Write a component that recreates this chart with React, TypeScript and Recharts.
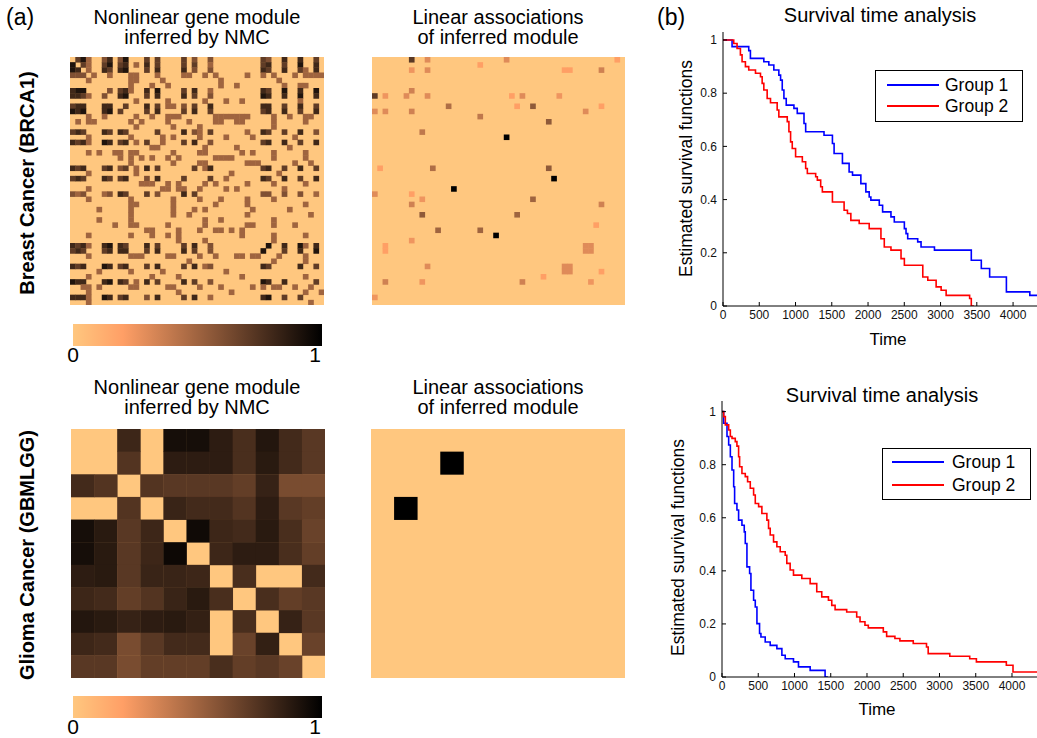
import React from 'react';
import { BarChart, Bar, Line, LineChart, Scatter, ScatterChart, XAxis, YAxis } from 'recharts';

const FONT = '"Liberation Sans", Arial, sans-serif';
const BG = '#ffc77f';

// Breast cancer nonlinear module, 48 x 48 ('.' = 0, digit = tenths)
const brcaNonlinear: string[] = [
  '.795..68.69...7.7....7.6..6.........76..8..8..7.',
  '9.75..79.78.5.8.7....7.7..5.........78..7..9..8.',
  '98.5..87.89...7.8....8.6..6.........87..8..75.8.',
  '666.5..5...55...5....55..5.5.....5..5.5...5.5555',
  '...5.......55....5..........5..........5........',
  '...........5...5..5.........5..5........5..55...',
  '899....6.785..8.9....7.8..5.........87..9..8..9.',
  '8875..6..89...7.8....8.7..6.........98..8..9..8.',
  '............5.....5......5...5..5..........5....',
  '788...88..7...8.7.55.6.7..8.........88..7..8..7.',
  '989...89.7....7.8....7.8..7.........78..8..7..8.',
  '...5..5.....5..5..555......5555555....5..5..55..',
  '.5.55......5.5....5...5....55..55.....5.....5...',
  '............5......5....5.............5.........',
  '787...87.87.....7....8.65.7......5..87..7..8..6.',
  '...5.......5.....5.5....5....5....5.......5.....',
  '8785..98.78.5.7..5...7.8..6.........78..8..7..8.',
  '...............55........5.....5.........5......',
  '...5.5..55.55......5....55......5.5...5.....5...',
  '.........5.5.5.5..5.5......5555.......5.....5...',
  '...........5.......5....55.......555......5..5..',
  '878...78.67.5.8.7......7.58.........78..7..8..7.',
  '...5........5.................5........5........',
  '787...87.78...6.8....7....7..5......87..8..7..8.',
  '.............555..5.5....5.5.....5....5.....5...',
  '...5.............55.55..5....5.5........5.......',
  '656...56.87...7.6....8.7............66..6..6..5.',
  '...5.......5.......5....5...5....5....5.........',
  '...........55......5.......5.....5..........5...',
  '.....5.....5.......5...5.5........5......5......',
  '...........5.......5..5..........5...........5..',
  '.....5.....5.............5..5.........5.........',
  '........5..55.....5......5.......55...5...5.....',
  '..............55....5...5..55.5.5...............',
  '...5.......5...5..5.5...........5.....5.....5...',
  '....................5....5............5.........',
  '8785..89.87...8.7....7.8..6..........9..8..95.8.',
  '787...78.88...7.8....8.7..6.........9...7..8..9.',
  '...5.......555....55....5..5...55.55...5....5...',
  '......................5...............5.....5...',
  '878...98.78...7.8....7.8.56.........87.....8..7.',
  '.....5.....5.....5...........5..................',
  '...5...........5....5...........5...........5...',
  '988...89.87.5.8.7....8.7..6.........98..8.....7.',
  '..55.5.....55.....55....5...5.....5.5.55..5..5..',
  '...5................5.........5.............5..5',
  '8885..98.78...6.8....7.8..5.........89..7..7....',
  '...5.........................................5..',
];

// Breast cancer linear associations: [row, col, value]
const brcaLinear: [number, number, number][] = [
  [0, 7, 0.72], [0, 10, 0.3], [0, 25, 0.3], [0, 46, 0.2], [1, 20, 0.2],
  [2, 7, 0.25], [2, 10, 0.3], [2, 36, 0.2], [2, 37, 0.2], [2, 43, 0.35],
  [6, 7, 0.35], [7, 0, 0.7], [7, 2, 0.25], [7, 6, 0.3], [7, 10, 0.3],
  [7, 26, 0.2], [7, 28, 0.3], [7, 35, 0.25], [9, 14, 0.45], [9, 27, 0.2],
  [9, 30, 0.55], [9, 43, 0.2], [10, 0, 0.3], [10, 2, 0.3], [10, 7, 0.35],
  [10, 40, 0.3], [11, 20, 0.4], [12, 33, 0.55], [14, 9, 0.4], [15, 25, 1],
  [21, 1, 0.2], [21, 11, 0.45], [21, 33, 0.55], [23, 34, 1], [25, 15, 1],
  [26, 0, 0.3], [26, 7, 0.2], [27, 9, 0.25], [27, 30, 0.5], [28, 7, 0.35],
  [28, 43, 0.35], [30, 9, 0.55], [30, 27, 0.5], [32, 42, 0.2], [33, 12, 0.5],
  [33, 20, 0.5], [34, 23, 1], [35, 7, 0.25], [36, 2, 0.2], [37, 2, 0.2],
  [36, 40, 0.3], [36, 41, 0.3], [37, 40, 0.3], [37, 41, 0.3], [40, 10, 0.3],
  [40, 36, 0.3], [40, 37, 0.3], [41, 36, 0.3], [41, 37, 0.3], [41, 43, 0.2],
  [42, 32, 0.2], [43, 2, 0.35], [43, 9, 0.25], [43, 28, 0.35], [43, 41, 0.25],
  [46, 0, 0.25],
];

// Glioma nonlinear module, 11 x 11
const gliomaNonlinear: number[][] = [
  [0, 0, 0.81, 0, 0.93, 0.93, 0.86, 0.77, 0.89, 0.79, 0.72],
  [0, 0, 0.74, 0, 0.86, 0.86, 0.86, 0.77, 0.87, 0.79, 0.72],
  [0.79, 0.74, 0, 0.74, 0.72, 0.72, 0.72, 0.69, 0.83, 0.62, 0.62],
  [0, 0, 0.74, 0, 0.82, 0.79, 0.79, 0.74, 0.86, 0.72, 0.69],
  [0.93, 0.87, 0.72, 0.81, 0, 0.95, 0.81, 0.79, 0.87, 0.77, 0.67],
  [0.93, 0.87, 0.72, 0.81, 0.96, 0, 0.81, 0.86, 0.86, 0.77, 0.69],
  [0.86, 0.87, 0.72, 0.82, 0.82, 0.81, 0, 0.77, 0, 0, 0.79],
  [0.81, 0.79, 0.69, 0.74, 0.82, 0.87, 0.77, 0, 0.77, 0.69, 0.72],
  [0.89, 0.87, 0.83, 0.86, 0.87, 0.84, 0, 0.77, 0, 0.83, 0.72],
  [0.81, 0.79, 0.62, 0.72, 0.79, 0.79, 0, 0.67, 0.84, 0, 0.67],
  [0.72, 0.72, 0.62, 0.69, 0.69, 0.69, 0.77, 0.69, 0.72, 0.67, 0],
];

const gliomaLinear: [number, number, number][] = [
  [1, 3, 1], [3, 1, 1],
];

// Kaplan-Meier curves: [time, survival]
const brcaGroup1: [number, number][] = [
  [0, 1], [125, 0.975], [355, 0.96], [378, 0.931], [563, 0.918], [632, 0.906],
  [701, 0.887], [770, 0.868], [794, 0.849], [817, 0.812], [840, 0.78], [872, 0.755],
  [978, 0.743], [1024, 0.724], [1117, 0.686], [1140, 0.655], [1393, 0.642],
  [1509, 0.611], [1532, 0.573], [1647, 0.536], [1739, 0.504], [1786, 0.492],
  [1901, 0.46], [1970, 0.429], [2016, 0.41], [2039, 0.398], [2155, 0.379],
  [2201, 0.354], [2316, 0.335], [2362, 0.316], [2501, 0.291], [2524, 0.272],
  [2547, 0.253], [2685, 0.241], [2731, 0.222], [2916, 0.21], [3424, 0.172],
  [3562, 0.141], [3677, 0.109], [3908, 0.053], [4231, 0.04], [4330, 0.04],
];

const brcaGroup2: [number, number][] = [
  [0, 1], [148, 0.987], [194, 0.968], [240, 0.944], [263, 0.918], [309, 0.9],
  [355, 0.887], [448, 0.875], [517, 0.862], [540, 0.837], [563, 0.812], [609, 0.78],
  [655, 0.764], [747, 0.737], [770, 0.711], [886, 0.693], [909, 0.655], [932, 0.617],
  [955, 0.592], [1001, 0.561], [1094, 0.542], [1140, 0.517], [1163, 0.498],
  [1278, 0.486], [1301, 0.473], [1347, 0.448], [1370, 0.429], [1509, 0.391],
  [1670, 0.36], [1716, 0.348], [1763, 0.322], [1878, 0.31], [2016, 0.291],
  [2178, 0.253], [2224, 0.222], [2316, 0.21], [2455, 0.178], [2501, 0.153],
  [2755, 0.109], [2824, 0.097], [2939, 0.072], [3008, 0.059], [3077, 0.04],
  [3401, 0.028], [3424, 0], [3460, 0],
];

const gliomaGroup1: [number, number][] = [
  [0, 1], [23, 0.956], [69, 0.906], [92, 0.874], [115, 0.83], [138, 0.78],
  [161, 0.717], [174, 0.654], [206, 0.629], [229, 0.591], [275, 0.572], [307, 0.547],
  [321, 0.503], [344, 0.415], [381, 0.39], [399, 0.327], [436, 0.289], [459, 0.264],
  [482, 0.201], [518, 0.164], [537, 0.151], [596, 0.132], [665, 0.119], [757, 0.107],
  [826, 0.082], [872, 0.069], [986, 0.057], [1055, 0.038], [1216, 0.025],
  [1422, 0], [1460, 0],
];

const gliomaGroup2: [number, number][] = [
  [0, 1], [23, 0.981], [46, 0.95], [92, 0.931], [115, 0.906], [138, 0.899],
  [183, 0.887], [206, 0.87], [229, 0.83], [243, 0.792], [275, 0.767], [321, 0.755],
  [353, 0.736], [390, 0.711], [436, 0.686], [459, 0.654], [505, 0.642], [550, 0.616],
  [619, 0.591], [642, 0.56], [665, 0.535], [711, 0.509], [757, 0.491], [803, 0.472],
  [872, 0.459], [894, 0.428], [940, 0.403], [986, 0.384], [1101, 0.371],
  [1216, 0.352], [1307, 0.321], [1376, 0.302], [1468, 0.289], [1514, 0.27],
  [1560, 0.254], [1720, 0.245], [1858, 0.226], [1904, 0.208], [1972, 0.195],
  [2018, 0.185], [2225, 0.17], [2271, 0.153], [2385, 0.145], [2454, 0.136],
  [2638, 0.126], [2821, 0.113], [2844, 0.088], [3142, 0.078], [3417, 0.069],
  [3509, 0.057], [3922, 0.044], [4014, 0.019], [4345, 0.019],
];

const timeTicks = [0, 500, 1000, 1500, 2000, 2500, 3000, 3500, 4000];
const survTicks = [0, 0.2, 0.4, 0.6, 0.8, 1];
const colorbarTicks = [0, 1];

// flipped MATLAB copper map
function copper(v: number) {
  const x = 1 - v;
  const r = Math.min(1, 1.25 * x);
  return `rgb(${Math.round(r * 255)},${Math.round(0.7812 * x * 255)},${Math.round(0.4975 * x * 255)})`;
}

type CellRow = { x: number; y: number; v: number };

function fromStrings(rows: string[]): CellRow[] {
  const out: CellRow[] = [];
  rows.forEach((row, r) => {
    for (let c = 0; c < Math.min(row.length, rows.length); c++) {
      const ch = row[c];
      if (ch !== '.') out.push({ x: c + 0.5, y: r + 0.5, v: Number(ch) / 10 });
    }
  });
  return out;
}

function fromMatrix(m: number[][]): CellRow[] {
  const out: CellRow[] = [];
  m.forEach((row, r) => row.forEach((v, c) => { if (v > 0) out.push({ x: c + 0.5, y: r + 0.5, v }); }));
  return out;
}

function fromList(list: [number, number, number][]): CellRow[] {
  return list.map(([r, c, v]) => ({ x: c + 0.5, y: r + 0.5, v }));
}

function Heatmap({ cells, n, left, top, width, height }: { cells: CellRow[]; n: number; left: number; top: number; width: number; height: number }) {
  const cw = width / n;
  const ch = height / n;
  const shape = (p: any) => (
    <rect x={p.cx - cw / 2} y={p.cy - ch / 2} width={cw + 0.4} height={ch + 0.4} fill={copper(p.payload.v)} />
  );
  return (
    <div style={{ position: 'absolute', left, top, width, height, background: BG }}>
      <ScatterChart width={width} height={height} margin={{ top: 0, right: 0, bottom: 0, left: 0 }}>
        <XAxis type="number" dataKey="x" domain={[0, n]} hide height={0} />
        <YAxis type="number" dataKey="y" domain={[0, n]} reversed hide width={0} />
        <Scatter data={cells} shape={shape} isAnimationActive={false} />
      </ScatterChart>
    </div>
  );
}

function ColorBar({ id, left, top }: { id: string; left: number; top: number }) {
  return (
    <div style={{ position: 'absolute', left: left - 10, top }}>
      <BarChart width={269} height={50} layout="vertical" data={[{ name: 'c', v: 1.028 }]}
        margin={{ top: 0, right: 10, bottom: 0, left: 10 }} barCategoryGap={0}>
        <defs>
          <linearGradient id={id} x1="0" y1="0" x2="1" y2="0">
            <stop offset="0" stopColor="#ffc77f" />
            <stop offset="0.2" stopColor="#ff9f66" />
            <stop offset="1" stopColor="#000000" />
          </linearGradient>
        </defs>
        <XAxis type="number" domain={[0, 1.028]} ticks={colorbarTicks} height={28}
          axisLine={false} tickLine={false} tickSize={0} tickMargin={1}
          tick={{ fontSize: 21, fill: '#000', fontFamily: FONT }} />
        <YAxis type="category" dataKey="name" hide width={0} />
        <Bar dataKey="v" fill={`url(#${id})`} isAnimationActive={false} />
      </BarChart>
    </div>
  );
}

const toPts = (a: [number, number][]) => a.map(([t, s]) => ({ t, s }));
const fmtSurv = (v: number) => (v === 0 ? '0' : v === 1 ? '1' : v.toFixed(1));

function Survival({ left, top, marginTop, yWidth, xHeight, xMax, yMax, g1, g2 }: {
  left: number; top: number; marginTop: number; yWidth: number; xHeight: number;
  xMax: number; yMax: number; g1: [number, number][]; g2: [number, number][];
}) {
  const tick = { fontSize: 12, fill: '#111', fontFamily: FONT };
  return (
    <div style={{ position: 'absolute', left, top }}>
      <LineChart width={1037 - left} height={330} margin={{ top: marginTop, right: 0, bottom: 0, left: 0 }}>
        <XAxis type="number" dataKey="t" domain={[0, xMax]} ticks={timeTicks} interval={0}
          allowDataOverflow height={xHeight} tickSize={-4} tickMargin={8} tick={tick}
          axisLine={{ stroke: '#000' }} tickLine={{ stroke: '#000' }} />
        <YAxis type="number" domain={[0, yMax]} ticks={survTicks} interval={0} width={yWidth}
          allowDataOverflow tickSize={-4} tickMargin={10} tick={tick} tickFormatter={fmtSurv}
          axisLine={{ stroke: '#000' }} tickLine={{ stroke: '#000' }} />
        <Line data={toPts(g1)} dataKey="s" type="stepAfter" stroke="#0000ff" strokeWidth={1.6}
          dot={false} isAnimationActive={false} />
        <Line data={toPts(g2)} dataKey="s" type="stepAfter" stroke="#ff0000" strokeWidth={1.6}
          dot={false} isAnimationActive={false} />
      </LineChart>
    </div>
  );
}

function LegendBox({ left, top, width, lineX, textX, y1, y2 }: { left: number; top: number; width: number; lineX: number; textX: number; y1: number; y2: number }) {
  const entry = (label: string, color: string, y: number) => (
    <>
      <div style={{ position: 'absolute', left: lineX, top: y - 1, width: 52, borderTop: `2px solid ${color}` }} />
      <div style={{ position: 'absolute', left: textX, top: y - 11, lineHeight: '22px', fontSize: 17.5 }}>{label}</div>
    </>
  );
  return (
    <div style={{ position: 'absolute', left, top, width, height: 52, border: '1.5px solid #000', boxSizing: 'border-box', background: '#fff' }}>
      {entry('Group 1', '#0000ff', y1)}
      {entry('Group 2', '#ff0000', y2)}
    </div>
  );
}

function Title({ lines, cx, top, size = 20 }: { lines: string[]; cx: number; top: number; size?: number }) {
  return (
    <div style={{ position: 'absolute', left: cx - 160, top, width: 320, textAlign: 'center', fontSize: size, lineHeight: '20px', whiteSpace: 'nowrap' }}>
      {lines.map((l) => <div key={l}>{l}</div>)}
    </div>
  );
}

function VText({ text, cx, cy, size, bold }: { text: string; cx: number; cy: number; size: number; bold?: boolean }) {
  const w = 400;
  const h = size * 1.2;
  return (
    <div style={{ position: 'absolute', left: cx - w / 2, top: cy - h / 2, width: w, height: h, lineHeight: `${h}px`,
      textAlign: 'center', fontSize: size, fontWeight: bold ? 700 : 400, transform: 'rotate(-90deg)', whiteSpace: 'nowrap' }}>
      {text}
    </div>
  );
}

export default function App() {
  return (
    <div style={{ position: 'relative', width: 1037, height: 738, overflow: 'hidden', background: '#fff', fontFamily: FONT, color: '#000' }}>
      <style>{'html,body{margin:0;padding:0;overflow:hidden;}'}</style>

      <div style={{ position: 'absolute', left: 6, top: 4, fontSize: 23, lineHeight: '26px' }}>(a)</div>
      <div style={{ position: 'absolute', left: 657, top: 4, fontSize: 23, lineHeight: '26px' }}>(b)</div>

      <Title lines={['Nonlinear gene module', 'inferred by NMC']} cx={197} top={7} />
      <Title lines={['Linear associations', 'of inferred module']} cx={498} top={7} />
      <Title lines={['Nonlinear gene module', 'inferred by NMC']} cx={197} top={377} />
      <Title lines={['Linear associations', 'of inferred module']} cx={498} top={377} />

      <VText text="Breast Cancer (BRCA1)" cx={27} cy={183} size={20} bold />
      <VText text="Glioma Cancer (GBMLGG)" cx={27} cy={555} size={20} bold />

      <Heatmap cells={fromStrings(brcaNonlinear)} n={48} left={70} top={57} width={254} height={248} />
      <Heatmap cells={fromList(brcaLinear)} n={48} left={372} top={57} width={253} height={248} />
      <Heatmap cells={fromMatrix(gliomaNonlinear)} n={11} left={71} top={429} width={254} height={249} />
      <Heatmap cells={fromList(gliomaLinear)} n={11} left={371} top={429} width={254} height={249} />

      <ColorBar id="cb1" left={73} top={324} />
      <ColorBar id="cb2" left={73} top={696} />

      <Title lines={['Survival time analysis']} cx={880} top={5} />
      <Title lines={['Survival time analysis']} cx={882} top={385} />

      <Survival left={660} top={20} marginTop={12} yWidth={63} xHeight={44} xMax={4330} yMax={1.03}
        g1={brcaGroup1} g2={brcaGroup2} />
      <Survival left={660} top={390} marginTop={11} yWidth={62} xHeight={43} xMax={4345} yMax={1.04}
        g1={gliomaGroup1} g2={gliomaGroup2} />

      <div style={{ position: 'absolute', left: 848, top: 329, width: 80, textAlign: 'center', fontSize: 17, lineHeight: '22px' }}>Time</div>
      <div style={{ position: 'absolute', left: 837, top: 699, width: 80, textAlign: 'center', fontSize: 17, lineHeight: '22px' }}>Time</div>
      <VText text="Estimated survival functions" cx={686} cy={168} size={17.5} />
      <VText text="Estimated survival functions" cx={678} cy={547} size={17.5} />

      <LegendBox left={875} top={70} width={148} lineX={11} textX={69} y1={14} y2={35} />
      <LegendBox left={882} top={448} width={149} lineX={9} textX={69} y1={13} y2={36} />
    </div>
  );
}
